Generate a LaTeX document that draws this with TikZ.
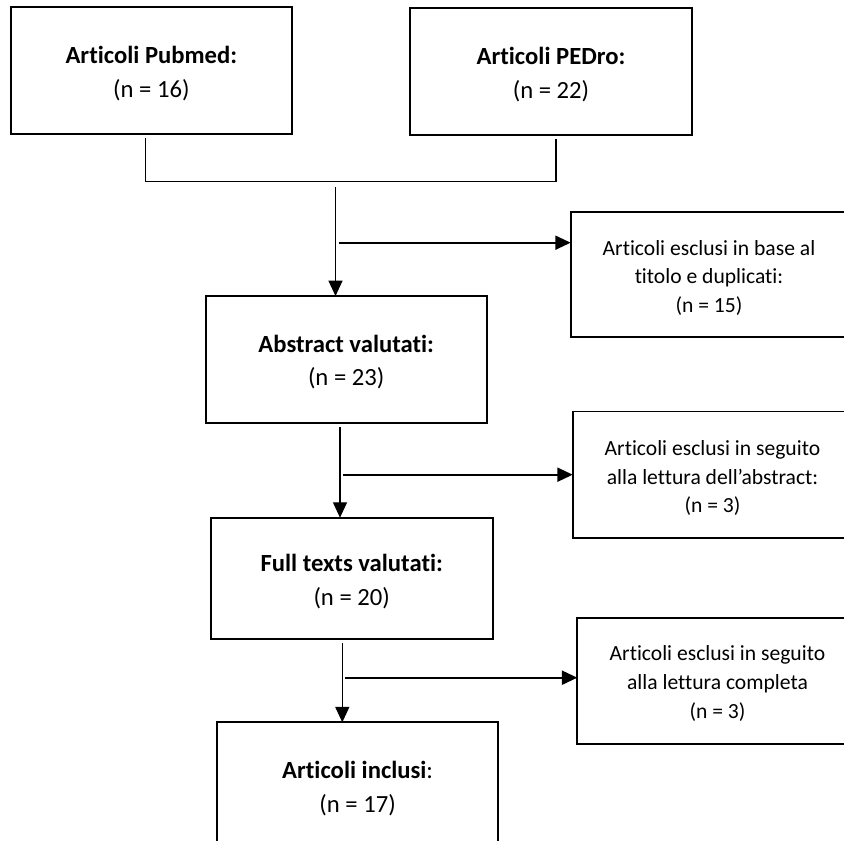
\documentclass[tikz,border=0pt]{standalone}
\usepackage{fontspec}
\setmainfont{Carlito}[Ligatures=CommonOff]
\usetikzlibrary{arrows.meta}
\tikzset{
  box/.style={draw, line width=1.25pt, rectangle, inner sep=0pt, outer sep=0pt},
  bigtxt/.style={font=\fontsize{18.5}{25}\selectfont, align=center, inner sep=0pt},
  smalltxt/.style={font=\fontsize{16.2}{21.5}\selectfont, align=center, inner sep=0pt},
  conn/.style={line width=0.85pt},
  arr/.style={line width=0.85pt, -{Triangle[length=11.5pt,width=10.5pt]}},
  harr/.style={line width=1.4pt, -{Triangle[length=11.5pt,width=10.5pt]}}
}
\begin{document}
\begin{tikzpicture}[x=0.75pt,y=-0.75pt]
\clip (0,0) rectangle (844,841);
\fill[white] (0,0) rectangle (844,841);
% main boxes
\node[box, minimum width=211pt, minimum height=95pt] (pub) at (151.35,70.65) {};
\node[bigtxt] (pubt) at ([yshift=-2.2pt]pub.center) {\textbf{Articoli Pubmed:}\\(n = 16)};
\node[box, minimum width=211.5pt, minimum height=95pt] (ped) at (551,71.65) {};
\node[bigtxt] (pedt) at ([yshift=-2.2pt]ped.center) {\textbf{Articoli PEDro:}\\(n = 22)};
\node[box, minimum width=210.75pt, minimum height=95pt] (abs) at (346.2,359.35) {};
\node[bigtxt] (abst) at ([yshift=-2pt]abs.center) {\textbf{Abstract valutati:}\\(n = 23)};
\node[box, minimum width=211.5pt, minimum height=91.2pt] (full) at (351.7,578.5) {};
\node[bigtxt] (fullt) at ([yshift=-2.2pt]full.center) {\textbf{Full texts valutati:}\\(n = 20)};
\node[box, minimum width=210.5pt, minimum height=95pt, anchor=north] (incl) at (357.65,722.3) {};
\node[bigtxt] (inclt) at ([yshift=-2.2pt]incl.center) {\textbf{Articoli inclusi}:\\(n = 17)};
% exclusion boxes
\node[box, minimum width=207.5pt, minimum height=94pt] (ex1) at (709,274.35) {};
\node[smalltxt] (ex1t) at ([yshift=-2.5pt]ex1.center) {Articoli esclusi in base al\\titolo e duplicati:\\(n = 15)};
\node[box, minimum width=209.7pt, minimum height=95pt] (ex2) at (712.5,475) {};
\node[smalltxt] (ex2t) at ([yshift=-2.5pt]ex2.center) {Articoli esclusi in seguito\\alla lettura dell’abstract:\\(n = 3)};
\node[box, minimum width=210.3pt, minimum height=94.7pt] (ex3) at (717.5,680.85) {};
\node[smalltxt] (ex3t) at ([yshift=-2pt]ex3.center) {Articoli esclusi in seguito\\alla lettura completa\\(n = 3)};
% junction coordinates
\coordinate (jl) at (145.7,181.7);
\coordinate (jr) at (556,181.7);
\coordinate (jc) at (335.5,181.7);
\coordinate (a1) at (338.7,242.7);
\coordinate (v2) at (340,470);
\coordinate (a2) at (343,474.7);
\coordinate (v3) at (342.3,680);
\coordinate (a3) at (345.3,677.7);
% connectors
\draw[conn, shorten <=3pt] (pub.south -| jl) -- (jl) -- (jr);
\draw[conn, shorten >=3pt] (jr) -- (ped.south -| jr);
\draw[arr, shorten <=4pt] (jc) -- (jc |- abs.north);
\draw[harr] (a1) -- (a1 -| ex1.west);
\draw[arr, shorten <=3pt] (abs.south -| v2) -- (v2 |- full.north);
\draw[harr] (a2) -- (a2 -| ex2.west);
\draw[arr, shorten <=2.5pt] (full.south -| v3) -- (v3 |- incl.north);
\draw[harr] (a3) -- (a3 -| ex3.west);
\end{tikzpicture}
\end{document}
